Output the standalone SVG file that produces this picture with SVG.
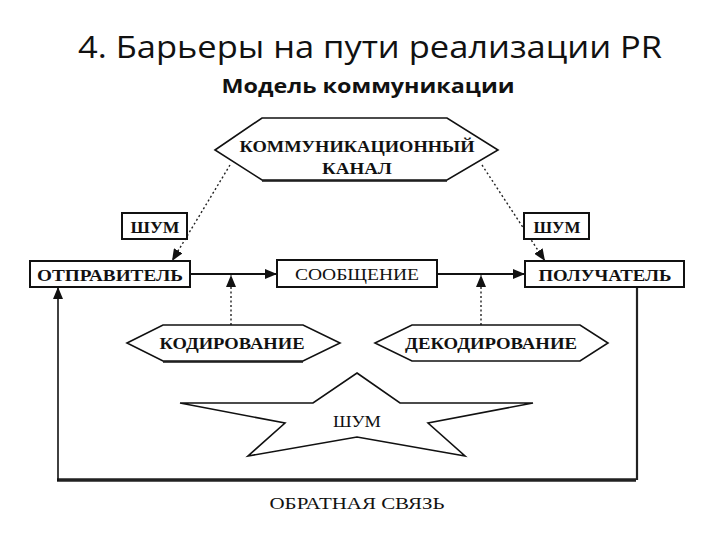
<svg xmlns="http://www.w3.org/2000/svg" width="720" height="540" viewBox="0 0 720 540">
<style>
.title{font-family:"Open Sans","Liberation Sans",sans-serif;fill:#111}
.lbl{font-family:"Liberation Serif","DejaVu Serif",serif;font-weight:bold;font-size:16px;fill:#111;text-anchor:middle}
.reg{font-weight:normal}
.box{fill:#fff;stroke:#111;stroke-width:2}
.shape{fill:#fff;stroke:#111;stroke-width:1.6;stroke-linejoin:miter}
.solid{stroke:#111;stroke-width:2;fill:none}
.dot{stroke:#222;stroke-width:1.4;fill:none;stroke-dasharray:2 2.5}
</style>
<defs>
<marker id="ah" viewBox="0 0 12 10" refX="12" refY="5" markerWidth="12" markerHeight="10" markerUnits="userSpaceOnUse" orient="auto">
<path d="M0,0 L12,5 L0,10 Z" fill="#111"/>
</marker>
</defs>
<rect width="720" height="540" fill="#fff"/>
<text class="title" x="370" y="58" font-size="31" text-anchor="middle" textLength="584" lengthAdjust="spacingAndGlyphs">4. Барьеры на пути реализации PR</text>
<text class="title" x="368" y="93" font-size="20" font-weight="bold" text-anchor="middle" textLength="293" lengthAdjust="spacingAndGlyphs">Модель коммуникации</text>

<g id="connectors">
<line class="solid" x1="190" y1="274" x2="277" y2="274" marker-end="url(#ah)"/>
<line class="solid" x1="437" y1="274" x2="525" y2="274" marker-end="url(#ah)"/>
<line class="dot" x1="231" y1="325" x2="231" y2="275" marker-end="url(#ah)"/>
<line class="dot" x1="481" y1="325" x2="481" y2="275" marker-end="url(#ah)"/>
<line class="dot" x1="230" y1="165" x2="172" y2="261" marker-end="url(#ah)"/>
<line class="dot" x1="482" y1="165" x2="545" y2="261" marker-end="url(#ah)"/>
<polyline points="637,287 637,480" stroke="#222" stroke-width="2.2" fill="none"/>
<line x1="636" y1="480" x2="57" y2="480" stroke="#222" stroke-width="3.5"/>
<polyline points="58,481 58,287" stroke="#111" stroke-width="1.6" fill="none" marker-end="url(#ah)"/>
<text class="lbl reg" x="357" y="509" textLength="175" lengthAdjust="spacingAndGlyphs">ОБРАТНАЯ СВЯЗЬ</text>
</g>

<g id="channel">
<polygon class="shape" points="215,150 262,118 447,118 498,150 447,180 262,180"/>
<line x1="262" y1="181" x2="447" y2="181" stroke="#111" stroke-width="1.5"/>
<text class="lbl" x="357" y="152" textLength="235" lengthAdjust="spacingAndGlyphs">КОММУНИКАЦИОННЫЙ</text>
<text class="lbl" x="357" y="174" textLength="70" lengthAdjust="spacingAndGlyphs">КАНАЛ</text>
</g>

<g id="noise-left">
<rect class="box" x="122" y="213" width="65" height="26" stroke-width="1.6"/>
<text class="lbl" x="155" y="233" textLength="49" lengthAdjust="spacingAndGlyphs">ШУМ</text>
</g>

<g id="noise-right">
<rect class="box" x="524" y="213" width="65" height="26" stroke-width="1.6"/>
<text class="lbl" x="557" y="233" textLength="47" lengthAdjust="spacingAndGlyphs">ШУМ</text>
</g>

<g id="sender">
<rect class="box" x="30" y="261" width="160" height="26" stroke-width="2.4"/>
<text class="lbl" x="110" y="281" textLength="146" lengthAdjust="spacingAndGlyphs">ОТПРАВИТЕЛЬ</text>
</g>

<g id="message">
<rect class="box" x="277" y="260" width="160" height="27"/>
<text class="lbl reg" x="357" y="280" textLength="124" lengthAdjust="spacingAndGlyphs">СООБЩЕНИЕ</text>
</g>

<g id="receiver">
<rect class="box" x="525" y="261" width="159" height="26"/>
<text class="lbl" x="605" y="281" textLength="133" lengthAdjust="spacingAndGlyphs">ПОЛУЧАТЕЛЬ</text>
</g>

<g id="encoding">
<polygon class="shape" points="127,343 163,325 303,325 340,343 303,361 163,361"/>
<line x1="163" y1="362" x2="303" y2="362" stroke="#111" stroke-width="1.4"/>
<text class="lbl" x="232" y="349" textLength="145" lengthAdjust="spacingAndGlyphs">КОДИРОВАНИЕ</text>
</g>

<g id="decoding">
<polygon class="shape" points="375,343 412,325 580,325 608,343 580,361 412,361"/>
<text class="lbl" x="491" y="349" textLength="172" lengthAdjust="spacingAndGlyphs">ДЕКОДИРОВАНИЕ</text>
</g>

<g id="noise-star">
<polygon class="shape" stroke-width="1.5" points="357,373 400,403 533,403 428,423 465,456 357,437 248,456 285,423 180,403 313,403"/>
<text class="lbl reg" x="357" y="427" textLength="48" lengthAdjust="spacingAndGlyphs">ШУМ</text>
</g>
</svg>
